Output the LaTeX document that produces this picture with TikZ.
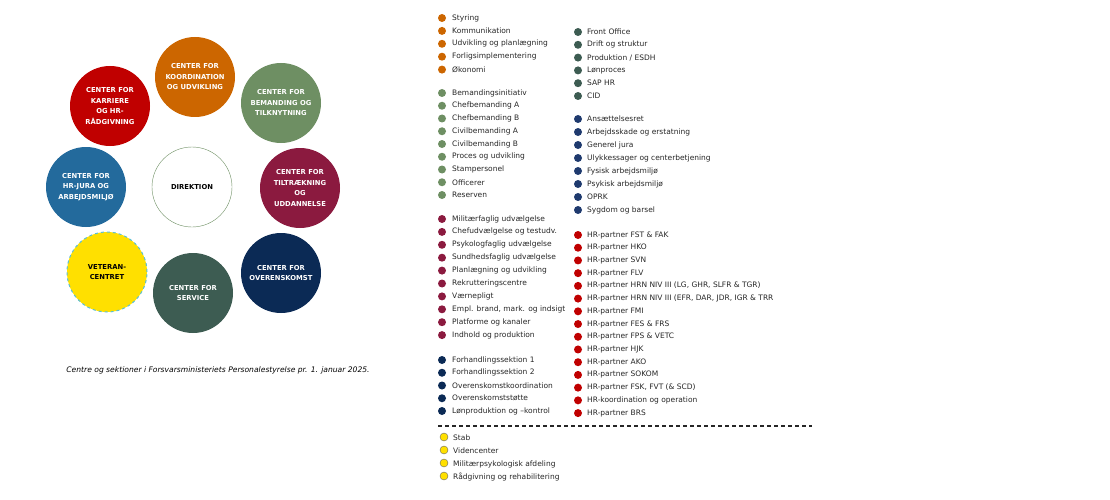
\documentclass[tikz,border=0pt]{standalone}
\usepackage{fontspec}
\setmainfont{DejaVu Sans}
\begin{document}
\begin{tikzpicture}[x=1pt,y=-1pt,
  circ/.style={circle,minimum size=80pt,inner sep=0pt,align=center,font=\fontsize{6.8}{10.5}\selectfont\bfseries,text=white},
  item/.style={anchor=west,inner sep=0pt,font=\fontsize{7.5}{8}\selectfont,text=black!85},
  dot/.style={circle,minimum size=8pt,inner sep=0pt}]
\definecolor{corange}{HTML}{CC6600}
\definecolor{cgreen}{HTML}{6E8F63}
\definecolor{cteal}{HTML}{3D5C52}
\definecolor{cbullblue}{HTML}{1F3A6E}
\definecolor{ccrimson}{HTML}{8B1A3F}
\definecolor{cred}{HTML}{C00000}
\definecolor{cblue}{HTML}{236A9C}
\definecolor{cnavy}{HTML}{0B2A55}
\definecolor{cyellow}{HTML}{FFE000}
\useasboundingbox (0,0) rectangle (1110,500);
\node[circ,fill=corange] (koord) at (195,77) {CENTER FOR\\KOORDINATION\\OG UDVIKLING};
\node[circ,fill=cred] (karr) at (110,106) {CENTER FOR\\KARRIERE\\OG HR-\\RÅDGIVNING};
\node[circ,fill=cgreen] (beman) at (281,103) {CENTER FOR\\BEMANDING OG\\TILKNYTNING};
\node[circ,fill=cblue] (jura) at (86,187) {CENTER FOR\\HR-JURA OG\\ARBEJDSMILJØ};
\node[circ,fill=white,draw=cgreen,text=black] (dir) at (192,187) {DIREKTION};
\node[circ,fill=ccrimson] (tilt) at (300,188) {CENTER FOR\\TILTRÆKNING\\OG\\UDDANNELSE};
\node[circ,fill=cyellow,draw=cblue!60!cyan!70,dashed,line width=1pt,text=black] (vet) at (107,272) {VETERAN-\\CENTRET};
\node[circ,fill=cteal] (serv) at (193,293) {CENTER FOR\\SERVICE};
\node[circ,fill=cnavy] (over) at (281,273) {CENTER FOR\\OVERENSKOMST};
\node[font=\fontsize{7.6}{8}\selectfont\itshape] (cap) at (218,370) {Centre og sektioner i Forsvarsministeriets Personalestyrelse pr. 1. januar 2025.};
% lists
\foreach \t [count=\i from 0] in {Styring,Kommunikation,Udvikling og planlægning,Forligsimplementering,Økonomi}
  {\node[dot,fill=corange] (a\i) at (442,18+12.9*\i) {}; \node[item] (at\i) at (452,18+12.9*\i) {\t};}
\foreach \t [count=\i from 0] in {Bemandingsinitiativ,Chefbemanding A,Chefbemanding B,Civilbemanding A,Civilbemanding B,Proces og udvikling,Stampersonel,Officerer,Reserven}
  {\node[dot,fill=cgreen] (b\i) at (442,93+12.75*\i) {}; \node[item] (bt\i) at (452,93+12.75*\i) {\t};}
\foreach \t [count=\i from 0] in {Militærfaglig udvælgelse,Chefudvælgelse og testudv.,Psykologfaglig udvælgelse,Sundhedsfaglig udvælgelse,Planlægning og udvikling,Rekrutteringscentre,Værnepligt,{Empl. brand, mark. og indsigt},Platforme og kanaler,Indhold og produktion}
  {\node[dot,fill=ccrimson] (c\i) at (442,219+12.9*\i) {}; \node[item] (ct\i) at (452,219+12.9*\i) {\t};}
\foreach \t [count=\i from 0] in {Forhandlingssektion 1,Forhandlingssektion 2,Overenskomstkoordination,Overenskomststøtte,Lønproduktion og –kontrol}
  {\node[dot,fill=cnavy] (d\i) at (442,360+12.75*\i) {}; \node[item] (dt\i) at (452,360+12.75*\i) {\t};}
\foreach \t [count=\i from 0] in {Front Office,Drift og struktur,Produktion / ESDH,Lønproces,SAP HR,CID}
  {\node[dot,fill=cteal] (e\i) at (578,32+12.8*\i) {}; \node[item] (et\i) at (587,32+12.8*\i) {\t};}
\foreach \t [count=\i from 0] in {Ansættelsesret,Arbejdsskade og erstatning,Generel jura,Ulykkessager og centerbetjening,Fysisk arbejdsmiljø,Psykisk arbejdsmiljø,OPRK,Sygdom og barsel}
  {\node[dot,fill=cbullblue] (f\i) at (578,119+13*\i) {}; \node[item] (ft\i) at (587,119+13*\i) {\t};}
\foreach \t [count=\i from 0] in {HR-partner FST \& FAK,HR-partner HKO,HR-partner SVN,HR-partner FLV,{HR-partner HRN NIV III (LG, GHR, SLFR \& TGR)},{HR-partner HRN NIV III (EFR, DAR, JDR, IGR \& TRR},HR-partner FMI,HR-partner FES \& FRS,HR-partner FPS \& VETC,HR-partner HJK,HR-partner AKO,HR-partner SOKOM,{HR-partner FSK, FVT (\& SCD)},HR-koordination og operation,HR-partner BRS}
  {\node[dot,fill=cred] (g\i) at (578,235+12.72*\i) {}; \node[item] (gt\i) at (587,235+12.72*\i) {\t};}
\coordinate (l1) at (438,426); \coordinate (l2) at (812,426);
\draw[line width=1.1pt,dash pattern=on 4pt off 3pt,black!85] (l1) -- (l2);
\foreach \t [count=\i from 0] in {Stab,Videncenter,Militærpsykologisk afdeling,Rådgivning og rehabilitering}
  {\node[dot,fill=cyellow,draw=black!60,line width=0.4pt] (h\i) at (444,437+13*\i) {}; \node[item] (ht\i) at (453,438+13*\i) {\t};}
\end{tikzpicture}
\end{document}
